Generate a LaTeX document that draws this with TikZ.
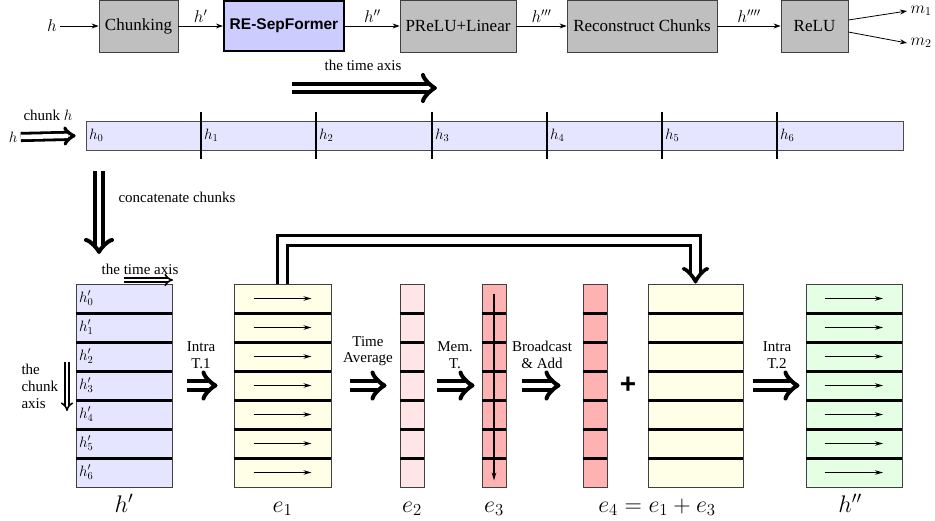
\RequirePackage{fix-cm}
\documentclass[tikz,border=0pt]{standalone}
\usepackage{fontspec}
\setmainfont{Liberation Serif}
\setsansfont{Liberation Sans}
\usetikzlibrary{arrows.meta,calc}
\pgfdeclarearrow{
  name = BigImp,
  parameters = {\the\pgfarrowlength,\the\pgfarrowwidth,\the\pgfarrowlinewidth},
  setup code = {
    \pgfarrowssettipend{.5\pgfarrowlinewidth}
    \pgfarrowssetbackend{-\pgfarrowlength}
    \pgfarrowssetlineend{-.6\pgfarrowlength}
    \pgfarrowssavethe\pgfarrowlength
    \pgfarrowssavethe\pgfarrowwidth
    \pgfarrowssavethe\pgfarrowlinewidth
  },
  drawing code = {
    \pgfsetdash{}{0pt}\pgfsetroundcap\pgfsetroundjoin
    \pgfsetlinewidth{\pgfarrowlinewidth}
    \pgfpathmoveto{\pgfqpoint{-\pgfarrowlength}{.5\pgfarrowwidth}}
    \pgfpathcurveto{\pgfqpoint{-.933\pgfarrowlength}{.3125\pgfarrowwidth}}{\pgfqpoint{-.2\pgfarrowlength}{.031\pgfarrowwidth}}{\pgfpointorigin}
    \pgfpathcurveto{\pgfqpoint{-.2\pgfarrowlength}{-.031\pgfarrowwidth}}{\pgfqpoint{-.933\pgfarrowlength}{-.3125\pgfarrowwidth}}{\pgfqpoint{-\pgfarrowlength}{-.5\pgfarrowwidth}}
    \pgfusepathqstroke
  },
  defaults = {length=13pt, width=26pt, line width=4pt}
}
\newcommand\mkcol[4]{%
  \foreach \i in {0,...,6} {\node[cell, minimum width=#3, fill=#4] (#1-\i) at (#2, {298.5+29*\i}) {};}
  \foreach \i in {0,...,5} {\draw[divider] (#1-\i.south west) -- (#1-\i.south east);}
}
\begin{document}
\begin{tikzpicture}[x=1pt,y=-1pt,
  procbox/.style={draw=black!75, line width=0.8pt, fill=gray!50, minimum height=52pt, inner sep=0pt, font=\fontsize{17}{20}\selectfont},
  sepbox/.style={draw=black, line width=2.2pt, fill=blue!20, minimum height=50pt, inner sep=0pt, font=\sffamily\bfseries\fontsize{15.5}{18}\selectfont},
  thinarr/.style={-{Stealth[length=7pt,width=5pt]}, line width=0.8pt},
  rowarr/.style={-{Stealth[length=8pt,width=4.5pt]}, line width=1.1pt},
  toplab/.style={font=\fontsize{17}{20}\selectfont},
  lab/.style={font=\fontsize{15}{16.5}\selectfont, align=center},
  biglab/.style={font=\fontsize{24}{28}\selectfont, anchor=base},
  fatarr/.style={double, double distance=4.5pt, line width=3.8pt, -{BigImp[length=12pt,width=26pt,line width=4pt]}},
  fbarr/.style={double, double distance=6.7pt, line width=3.3pt, -{BigImp[length=13pt,width=24pt,line width=3.6pt]}},
  meddouble/.style={double, double distance=4.5pt, line width=2.8pt, -{BigImp[length=9pt,width=16pt,line width=3.2pt]}},
  thindouble/.style={double, double distance=2.5pt, line width=1.6pt, -{Implies}},
  seg/.style={draw=black!70, line width=0.8pt, fill=blue!10, minimum height=29pt, inner sep=0pt},
  cell/.style={draw=black!75, line width=0.9pt, minimum height=29pt, inner sep=0pt},
  divider/.style={line width=2.2pt, black},
  cellab/.style={font=\fontsize{15}{17}\selectfont, anchor=west}
]
\useasboundingbox (0,0) rectangle (935,520);

% ---- top pipeline ----
\node[toplab] (hin) at (52,26) {$h$};
\node[procbox, minimum width=79pt] (chunk) at (138.5,26) {Chunking};
\node[sepbox, minimum width=120pt] (sep) at (284,26) {RE-SepFormer};
\node[procbox, minimum width=116pt] (prelu) at (458,26) {PReLU+Linear};
\node[procbox, minimum width=150pt] (recon) at (642,26) {Reconstruct Chunks};
\node[procbox, minimum width=67pt] (relu) at (814.5,26) {ReLU};
\node[toplab] (m1) at (921,11) {$m_1$};
\node[toplab] (m2) at (921,43) {$m_2$};
\draw[thinarr] (hin) -- (chunk);
\draw[thinarr] (chunk) -- node[above, toplab] {$h'$} (sep);
\draw[thinarr] (sep) -- node[above, toplab] {$h''$} (prelu);
\draw[thinarr] (prelu) -- node[above, toplab] {$h'''$} (recon);
\draw[thinarr] (recon) -- node[above, toplab] {$h''''$} (relu);
\draw[thinarr] ([yshift=6pt]relu.east) -- (m1.west);
\draw[thinarr] ([yshift=-6pt]relu.east) -- (m2.west);

% ---- time axis ----
\node[lab] (tatext) at (363,65) {the time axis};
\coordinate (ta1) at (292,88);
\coordinate (ta2) at (437,88);
\draw[fatarr] (ta1) -- (ta2);

% ---- chunk bar ----
\foreach \i/\a/\b in {0/86/201,1/201/316,2/316/432,3/432/547,4/547/662,5/662/777,6/777/903} {
  \node[seg, minimum width={\b-\a}] (s\i) at ({(\a+\b)/2},135.5) {};
  \node[cellab] at (s\i.west) {$h_\i$};
}
\foreach \i in {1,...,6} {
  \draw[divider] ($(s\i.north west)+(0,-9)$) -- ($(s\i.south west)+(0,9)$);
}
\node[lab] (hleft) at (13,137) {$h$};
\node[lab] (chunkh) at (48,115) {chunk $h$};
\draw[meddouble, shorten >=10pt] (hleft.east) -- (s0.west);

% ---- concatenate ----
\coordinate (cc1) at (99,171);
\coordinate (cc2) at (99,254);
\draw[fatarr] (cc1) -- (cc2);
\node[lab, anchor=west] (concat) at (115,197) {concatenate chunks};

% ---- columns ----
\mkcol{hp}{124}{96pt}{blue!10}
\mkcol{eA}{282.5}{97pt}{yellow!10}
\mkcol{eB}{412}{24pt}{red!10}
\mkcol{eC}{494}{24pt}{red!30}
\mkcol{eD}{595}{24pt}{red!30}
\mkcol{eE}{695.5}{95pt}{yellow!10}
\mkcol{hq}{854}{96pt}{green!10}

\foreach \i in {0,...,6} {
  \node[cellab] at (hp-\i.west) {$h^{\prime}_{\i}$};
  \draw[rowarr] ([xshift=-29pt]eA-\i.center) -- ([xshift=29pt]eA-\i.center);
  \draw[rowarr] ([xshift=-29pt]hq-\i.center) -- ([xshift=29pt]hq-\i.center);
}
\draw[rowarr] ([yshift=-10pt]eC-0.north) -- ([yshift=7pt]eC-6.south);

% time axis / chunk axis on h'
\node[lab] (ta3) at (140,269) {the time axis};
\coordinate (tb1) at (124,280);
\coordinate (tb2) at (173,280);
\draw[thindouble] (tb1) -- (tb2);
\node[lab, align=left, anchor=west, font=\fontsize{15}{17}\selectfont] (caxis) at (18,386) {the\\chunk\\axis};
\coordinate (ca1) at (67,362);
\coordinate (ca2) at (67,411);
\draw[thindouble] (ca1) -- (ca2);

% ---- operation arrows ----
\draw[fatarr, shorten <=15pt, shorten >=16pt] (hp-3.east) -- (eA-3.west);
\draw[fatarr, shorten <=19pt, shorten >=13pt] (eA-3.east) -- (eB-3.west);
\draw[fatarr, shorten <=13pt, shorten >=7pt] (eB-3.east) -- (eC-3.west);
\draw[fatarr, shorten <=16pt, shorten >=22pt] (eC-3.east) -- (eD-3.west);
\draw[fatarr, shorten <=10pt, shorten >=6pt] (eE-3.east) -- (hq-3.west);
\node[lab] (l1) at (201,355) {Intra\\T.1};
\node[lab] (l2) at (368,351) {Time\\Average};
\node[lab] (l3) at (455,355) {Mem.\\T.};
\node[lab] (l4) at (542,355) {Broadcast\\\& Add};
\node[lab] (l5) at (777,355) {Intra\\T.2};
\node[font=\sffamily\bfseries\fontsize{28}{28}\selectfont] (plus) at (628,385) {+};

% ---- feedback ----
\draw[fbarr] (eA-0.north) -- ++(0,-43) -| (eE-0.north);

% ---- bottom labels ----
\node[biglab] (Lhp) at (124,512) {$h'$};
\node[biglab] (LA) at (282.5,512) {$e_1$};
\node[biglab] (LB) at (412,512) {$e_2$};
\node[biglab] (LC) at (494,512) {$e_3$};
\node[biglab] (LD) at (657,512) {$e_4=e_1+e_3$};
\node[biglab] (Lhq) at (850,512) {$h''$};
\end{tikzpicture}
\end{document}
